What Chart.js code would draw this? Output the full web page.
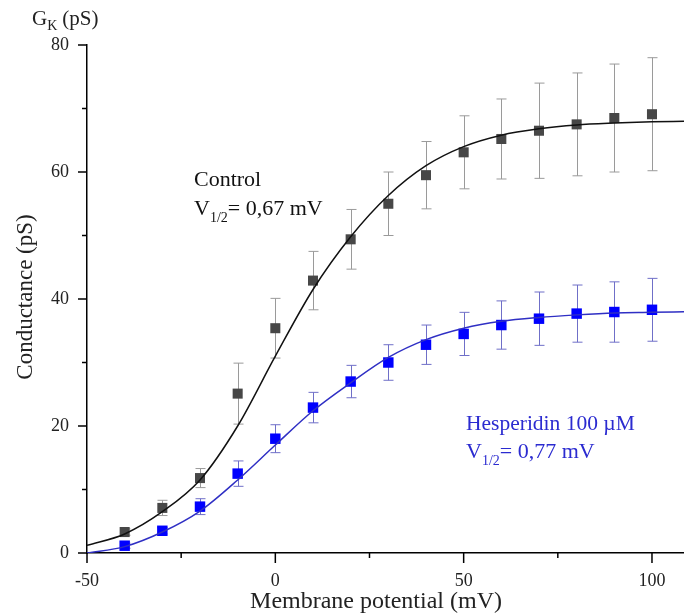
<!DOCTYPE html>
<html lang="en">
<head>
<meta charset="UTF-8" />
<title>Conductance vs membrane potential</title>
<script src="https://cdn.jsdelivr.net/npm/chart.js"></script>
<style>
  html, body { margin: 0; padding: 0; background: #fff; overflow: hidden; }
  canvas { display: block; }
</style>
</head>
<body>
<canvas id="chart" width="684" height="616"></canvas>
<script>
  // measured points (mV -> pS)
  const voltages = [-40, -30, -20, -10, 0, 10, 20, 30, 40, 50, 60, 70, 80, 90, 100];
  const controlG = [3.3, 7.1, 11.8, 25.1, 35.4, 42.9, 49.4, 55.0, 59.5, 63.1, 65.2, 66.5, 67.5, 68.5, 69.1];
  const controlErr = [0.5, 1.2, 1.5, 4.8, 4.7, 4.6, 4.7, 5.0, 5.3, 5.75, 6.3, 7.5, 8.1, 8.5, 8.9];
  const hespG = [1.15, 3.5, 7.3, 12.5, 18.0, 22.9, 27.0, 30.0, 32.8, 34.5, 35.9, 36.9, 37.7, 37.95, 38.3];
  const hespErr = [0.4, 0.5, 1.25, 2.0, 2.2, 2.4, 2.55, 2.8, 3.1, 3.4, 3.8, 4.2, 4.5, 4.75, 4.95];

  // fitted curves
  const fitV = [-50, -40, -30, -20, -10, 0, 10, 20, 30, 40, 50, 60, 70, 80, 90, 100, 108.5];
  const controlFit = [1.2, 3.0, 6.5, 11.5, 20.0, 31.0, 41.5, 49.8, 56.3, 61.0, 64.0, 65.8, 66.8, 67.4, 67.7, 67.9, 68.0];
  const hespFit = [0.0, 1.0, 3.3, 6.6, 11.5, 17.0, 22.4, 26.8, 30.8, 33.6, 35.4, 36.5, 37.1, 37.5, 37.8, 37.9, 38.0];

  const xTicks = [-50, -25, 0, 25, 50, 75, 100];
  const yTicks = [0, 10, 20, 30, 40, 50, 60, 70, 80];

  const SERIF = "'Liberation Serif', 'DejaVu Serif', serif";
  const pts = (xs, ys) => xs.map((v, i) => ({ x: v, y: ys[i] }));

  // error bars drawn under the squares
  const errorBars = {
    id: 'errorBars',
    beforeDatasetsDraw(chart) {
      const { ctx, scales: { x, y } } = chart;
      chart.data.datasets.forEach(ds => {
        if (!ds.errors) return;
        ctx.save();
        ctx.strokeStyle = ds.errorColor;
        ctx.lineWidth = 1;
        ds.data.forEach((p, j) => {
          const px = Math.round(x.getPixelForValue(p.x)) + 0.5;
          const top = y.getPixelForValue(p.y + ds.errors[j]);
          const bot = y.getPixelForValue(p.y - ds.errors[j]);
          ctx.beginPath();
          ctx.moveTo(px, top); ctx.lineTo(px, bot);
          ctx.moveTo(px - 5, top); ctx.lineTo(px + 5, top);
          ctx.moveTo(px - 5, bot); ctx.lineTo(px + 5, bot);
          ctx.stroke();
        });
        ctx.restore();
      });
    }
  };

  // tick marks (major longer), axis titles and annotations
  const decorations = {
    id: 'decorations',
    afterDraw(chart) {
      const { ctx, scales: { x, y }, chartArea: a } = chart;
      ctx.save();
      ctx.strokeStyle = '#000';
      ctx.lineWidth = 1.5;
      xTicks.forEach(v => {
        const px = x.getPixelForValue(v);
        ctx.beginPath();
        ctx.moveTo(px, a.bottom);
        ctx.lineTo(px, a.bottom + (v % 50 === 0 ? 10 : 5));
        ctx.stroke();
      });
      yTicks.forEach(v => {
        const py = y.getPixelForValue(v);
        ctx.beginPath();
        ctx.moveTo(a.left, py);
        ctx.lineTo(a.left - (v % 20 === 0 ? 9 : 5), py);
        ctx.stroke();
      });

      ctx.fillStyle = '#222';
      ctx.textBaseline = 'alphabetic';
      ctx.font = '24px ' + SERIF;
      ctx.textAlign = 'center';
      ctx.fillText('Membrane potential (mV)', 376, 608);

      ctx.save();
      ctx.translate(32, 297);
      ctx.rotate(-Math.PI / 2);
      ctx.font = '23px ' + SERIF;
      ctx.fillText('Conductance (pS)', 0, 0);
      ctx.restore();

      // top label G_K (pS)
      ctx.textAlign = 'left';
      ctx.font = '21px ' + SERIF;
      ctx.fillText('G', 32, 25);
      let gx = 32 + ctx.measureText('G').width;
      ctx.font = '14px ' + SERIF;
      ctx.fillText('K', gx, 30);
      gx += ctx.measureText('K').width + 5;
      ctx.font = '21px ' + SERIF;
      ctx.fillText('(pS)', gx, 25);

      const vHalf = (x0, base, rest, color) => {
        ctx.fillStyle = color;
        ctx.font = '22px ' + SERIF;
        ctx.fillText('V', x0, base);
        let cx = x0 + ctx.measureText('V').width;
        ctx.font = '14px ' + SERIF;
        ctx.fillText('1/2', cx, base + 7);
        cx += ctx.measureText('1/2').width;
        ctx.font = '22px ' + SERIF;
        ctx.fillText(rest, cx, base);
      };

      ctx.fillStyle = '#111';
      ctx.font = '22px ' + SERIF;
      ctx.fillText('Control', 194, 186);
      vHalf(194, 215, '= 0,67 mV', '#111');

      ctx.fillStyle = '#2b2bd0';
      ctx.font = '21.5px ' + SERIF;
      ctx.fillText('Hesperidin 100 \u00B5M', 466, 430);
      vHalf(466, 458, '= 0,77 mV', '#2b2bd0');
      ctx.restore();
    }
  };

  new Chart(document.getElementById('chart'), {
    type: 'scatter',
    data: {
      datasets: [
        {
          type: 'line',
          data: pts(fitV, controlFit),
          borderColor: '#111',
          borderWidth: 1.5,
          pointRadius: 0,
          cubicInterpolationMode: 'monotone',
          fill: false
        },
        {
          type: 'line',
          data: pts(fitV, hespFit),
          borderColor: '#2f2fc4',
          borderWidth: 1.5,
          pointRadius: 0,
          cubicInterpolationMode: 'monotone',
          fill: false
        },
        {
          data: pts(voltages, controlG),
          errors: controlErr,
          errorColor: '#9a9a9a',
          pointStyle: 'rect',
          pointRadius: 7.1,
          backgroundColor: '#474747',
          borderWidth: 0
        },
        {
          data: pts(voltages, hespG),
          errors: hespErr,
          errorColor: '#6f6fc8',
          pointStyle: 'rect',
          pointRadius: 7.4,
          backgroundColor: '#0000ff',
          borderWidth: 0
        }
      ]
    },
    options: {
      responsive: false,
      animation: false,
      devicePixelRatio: 1,
      layout: { autoPadding: false, padding: { top: 45, right: 0, left: 0, bottom: 0 } },
      plugins: {
        legend: { display: false },
        tooltip: { enabled: false }
      },
      scales: {
        x: {
          type: 'linear',
          min: -50,
          max: 108.5,
          afterBuildTicks: s => { s.ticks = xTicks.map(v => ({ value: v })); },
          afterFit: s => {
            s.height = 63;
            s.paddingLeft = 0; s.paddingRight = 0;
          },
          grid: { display: false, drawTicks: false },
          border: { display: true, color: '#000', width: 1.5 },
          ticks: {
            padding: 17,
            autoSkip: false,
            maxRotation: 0,
            color: '#222',
            font: { family: SERIF, size: 18 },
            callback: v => (v % 50 === 0 ? v : '')
          }
        },
        y: {
          type: 'linear',
          min: 0,
          max: 80,
          afterBuildTicks: s => { s.ticks = yTicks.map(v => ({ value: v })); },
          afterFit: s => {
            s.width = 87;
            s.paddingTop = 0; s.paddingBottom = 0;
          },
          grid: { display: false, drawTicks: false },
          border: { display: true, color: '#000', width: 1.5 },
          ticks: {
            padding: 18,
            autoSkip: false,
            color: '#222',
            font: { family: SERIF, size: 18 },
            callback: v => (v % 20 === 0 ? v : '')
          }
        }
      }
    },
    plugins: [errorBars, decorations]
  });
</script>
</body>
</html>
